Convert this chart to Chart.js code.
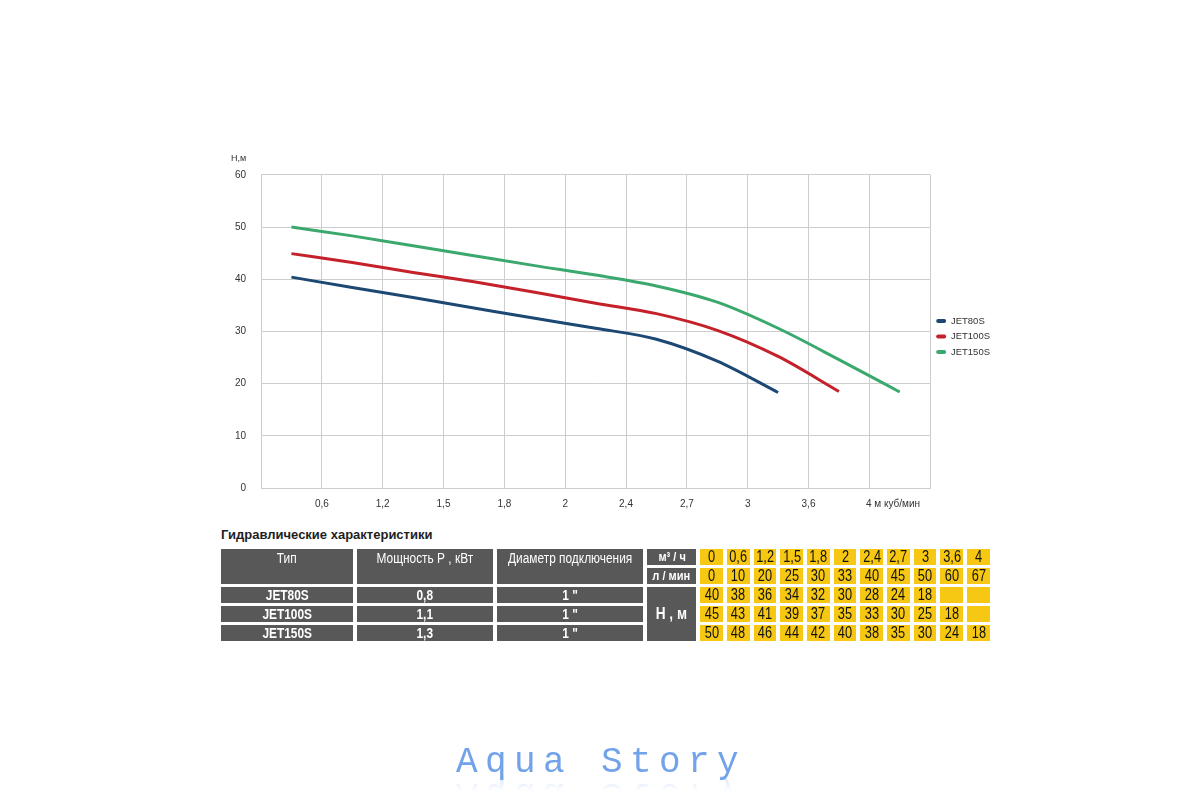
<!DOCTYPE html>
<html>
<head>
    <meta charset="utf-8">
    <title>JET80S / JET100S / JET150S</title>
    <script src="https://cdn.jsdelivr.net/npm/chart.js@4.4.1/dist/chart.umd.min.js"></script>
    <style>
        body {
            margin: 0;
            background: #fff;
            width: 1200px;
            height: 800px;
            position: relative;
            overflow: hidden;
            font-family: "Liberation Sans Narrow", "Liberation Sans", Arial, sans-serif;
        }
        #chart-wrapper {
            position: absolute;
            left: 0;
            top: 0;
            width: 1200px;
            height: 520px;
        }
        #caption {
            position: absolute;
            left: 221px;
            top: 527px;
            font: bold 13px "Liberation Sans", Arial, sans-serif;
            color: #1e1e1e;
        }
        #specs {
            position: absolute;
            left: 217px;
            top: 546px;
            border-collapse: separate;
            border-spacing: 4px 3px;
            table-layout: fixed;
        }
        #specs td {
            padding: 0;
            height: 16px;
            line-height: 16px;
            text-align: center;
            white-space: nowrap;
            overflow: hidden;
        }
        #specs td span {
            display: inline-block;
            transform: scaleX(0.85);
        }
        #specs td.grey {
            background: #585858;
            color: #fff;
            font-size: 14px;
        }
        #specs td.head {
            vertical-align: top;
            line-height: 18px;
        }
        #specs td.model {
            font-weight: bold;
        }
        #specs td.unit {
            font-weight: bold;
            font-size: 13px;
        }
        #specs td.unit.big {
            font-size: 16px;
        }
        #specs td.yellow {
            background: #f6c814;
            color: #111;
            font-size: 16px;
        }
        #specs td.yellow span {
            transform: scaleX(0.8);
        }
        #watermark {
            position: absolute;
            left: 456px;
            top: 742px;
            font: 36px "Liberation Mono", "DejaVu Sans Mono", monospace;
            letter-spacing: 7.4px;
            color: #72a2ea;
            white-space: pre;
            -webkit-box-reflect: below -10px linear-gradient(transparent 55%, rgba(255,255,255,0.35));
        }
    </style>
</head>
<body>
<div id="chart-wrapper">
    <canvas id="myChart" width="1200" height="520"></canvas>
</div>
<div id="caption">Гидравлические характеристики</div>
<table id="specs"></table>
<div id="watermark">Aqua Story</div>
<script>

// flow values (table header)
var flowM3h = ['0', '0,6', '1,2', '1,5', '1,8', '2', '2,4', '2,7', '3', '3,6', '4'];
var flowLmin = ['0', '10', '20', '25', '30', '33', '40', '45', '50', '60', '67'];
// labels under the chart grid lines
var axisLabels = ['0,6', '1,2', '1,5', '1,8', '2', '2,4', '2,7', '3', '3,6', '4 м куб/мин'];

var models = ['JET80S', 'JET100S', 'JET150S'];
var powerKw = ['0,8', '1,1', '1,3'];
var connection = ['1 "', '1 "', '1 "'];

// head, m - as printed in the table
var tableJet80 = [40, 38, 36, 34, 32, 30, 28, 24, 18];
var tableJet100 = [45, 43, 41, 39, 37, 35, 33, 30, 25, 18];
var tableJet150 = [50, 48, 46, 44, 42, 40, 38, 35, 30, 24, 18];

// head, m
var curveJet80 = [40.4, 38.4, 36.5, 34.5, 32.5, 30.6, 28.5, 24.3, 18.3];
var curveJet100 = [44.9, 43.2, 41.3, 39.5, 37.5, 35.4, 33.4, 30.2, 25.2, 18.5];
var curveJet150 = [50, 48.3, 46.4, 44.5, 42.6, 40.8, 38.7, 35.6, 30.6, 24.6, 18.4];

var lineColors = ['#1c4873', '#c4212a', '#3ba86d'];

var fontFamily = '"Liberation Sans Narrow", "Liberation Sans", Arial, sans-serif';
Chart.defaults.font.family = fontFamily;
Chart.defaults.color = '#333';

// the last axis label starts at its grid line instead of being centred on it
var measureCtx = document.createElement('canvas').getContext('2d');
function startAtTick(text, size, shift)
{
    measureCtx.font = size + 'px ' + fontFamily;
    var w = measureCtx.measureText(text).width;
    var sp = measureCtx.measureText(' ').width;
    var n = Math.max(0, Math.round((w + 2 * shift) / sp));
    return ' '.repeat(n) + text;
}

function toPoints(values)
{
    // one point per flow step, centred in its grid column
    return values.map(function (v, i) { return {x: i + 0.5, y: v}; });
}

var curves = [curveJet80, curveJet100, curveJet150];
var datasets = models.map(function (name, k) {
    return {
        label: name,
        data: toPoints(curves[k]),
        borderColor: lineColors[k],
        backgroundColor: lineColors[k],
        borderWidth: 3,
        pointRadius: 0,
        fill: false,
        cubicInterpolationMode: 'monotone'
    };
});

var gridColor = '#cdcdcd';
var tickSize = 10;

const ctx = document.getElementById('myChart').getContext('2d');
var myChart = new Chart(ctx, {
    type: 'line',
    data: {datasets: datasets},
    options: {
        responsive: false,
        animation: false,
        layout: {
            padding: {left: 231, top: 153, right: 200, bottom: 0}
        },
        scales: {
            x: {
                type: 'linear',
                min: 0,
                max: 11,
                grid: {color: gridColor, drawTicks: false},
                border: {color: gridColor},
                ticks: {
                    stepSize: 1,
                    autoSkip: false,
                    maxRotation: 0,
                    padding: 10,
                    font: {size: tickSize},
                    callback: function (v) {
                        var label = axisLabels[v - 1];
                        if (label === undefined) return '';
                        if (v === axisLabels.length) return startAtTick(label, tickSize, -4);
                        return label;
                    }
                }
            },
            y: {
                min: 0,
                max: 60,
                grid: {color: gridColor, drawTicks: false},
                border: {color: gridColor},
                ticks: {stepSize: 10, padding: 15, font: {size: tickSize}},
                afterFit: function (scale) { scale.width = 30; }
            }
        },
        plugins: {
            title: {
                display: true,
                text: 'Н,м',
                align: 'start',
                font: {size: 9, weight: 'normal'},
                padding: {top: 0, bottom: 11}
            },
            legend: {
                position: 'right',
                align: 'center',
                labels: {
                    boxWidth: 10,
                    boxHeight: 4,
                    padding: 6,
                    useBorderRadius: true,
                    borderRadius: 2,
                    font: {size: 9.5},
                    generateLabels: function (chart) {
                        var items = Chart.defaults.plugins.legend.labels.generateLabels(chart);
                        items.forEach(function (it) { it.lineWidth = 0; });
                        return items;
                    }
                }
            },
            tooltip: {enabled: false}
        }
    }
});

// table under the chart
function cell(text, cls, attrs)
{
    return '<td class="' + cls + '"' + (attrs || '') + '><span>' + text + '</span></td>';
}

var tableHeads = [tableJet80, tableJet100, tableJet150];
var html = '<colgroup><col style="width:132px"><col style="width:136px"><col style="width:146px"><col style="width:49px">';
for (var i = 0; i < flowM3h.length; i++) html += '<col style="width:22.7px">';
html += '</colgroup>';

html += '<tr>' + cell('Тип', 'grey head', ' rowspan="2"') +
    cell('Мощность Р , кВт', 'grey head', ' rowspan="2"') +
    cell('Диаметр подключения', 'grey head', ' rowspan="2"') +
    cell('м³ / ч', 'grey unit');
flowM3h.forEach(function (f) { html += cell(f, 'yellow'); });
html += '</tr><tr>' + cell('л / мин', 'grey unit');
flowLmin.forEach(function (f) { html += cell(f, 'yellow'); });
html += '</tr>';

models.forEach(function (name, k) {
    html += '<tr>' + cell(name, 'grey model') + cell(powerKw[k], 'grey model') + cell(connection[k], 'grey model');
    if (k === 0) html += cell('Н , м', 'grey unit big', ' rowspan="3"');
    for (var j = 0; j < flowM3h.length; j++) {
        var h = tableHeads[k][j];
        html += cell(h === undefined ? '' : h, 'yellow');
    }
    html += '</tr>';
});
document.getElementById('specs').innerHTML = html;

</script>
</body>
</html>
